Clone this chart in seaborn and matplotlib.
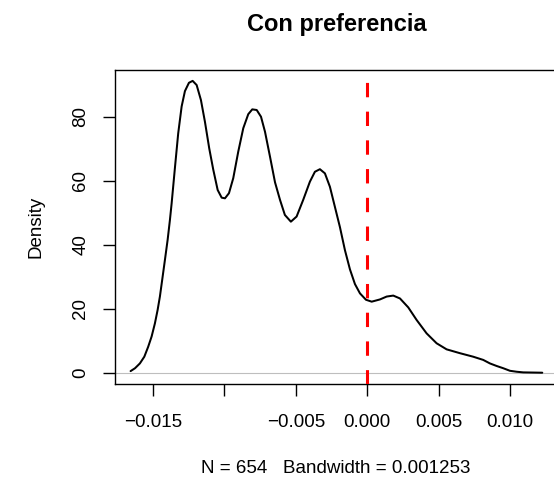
import matplotlib
matplotlib.use("Agg")
import matplotlib.pyplot as plt
import seaborn as sns
import pandas as pd

# Density curve
dens_x = [-0.01655, -0.01624, -0.01590, -0.01559, -0.01532, -0.01508, -0.01485,
          -0.01466, -0.01450, -0.01434, -0.01415, -0.01396, -0.01380, -0.01368,
          -0.01345, -0.01322, -0.01298, -0.01275, -0.01247, -0.01221, -0.01193,
          -0.01163, -0.01135, -0.01105, -0.01077, -0.01046, -0.01018, -0.00995,
          -0.00967, -0.00937, -0.00902, -0.00867, -0.00832, -0.00804, -0.00773,
          -0.00743, -0.00715, -0.00680, -0.00645, -0.00610, -0.00576, -0.00534,
          -0.00494, -0.00448, -0.00401, -0.00366, -0.00331, -0.00296, -0.00261,
          -0.00226, -0.00191, -0.00156, -0.00121, -0.00086, -0.00051, -0.00009,
          0.00031, 0.00089, 0.00136, 0.00182, 0.00229, 0.00287, 0.00345,
          0.00415, 0.00485, 0.00555, 0.00648, 0.00741, 0.00811, 0.00858,
          0.00905, 0.00951, 0.00998, 0.01045, 0.01091, 0.01224]
dens_y = [0.5, 1.4, 2.9, 5.0, 8.1, 11.3, 15.4,
          19.6, 23.8, 29.0, 35.2, 41.5, 47.7, 52.9,
          64.0, 74.8, 83.2, 88.0, 90.6, 91.2, 89.9,
          85.2, 78.4, 70.1, 63.5, 57.1, 54.7, 54.5,
          56.1, 60.8, 69.1, 76.4, 80.8, 82.3, 82.1,
          80.0, 75.3, 67.5, 59.5, 54.0, 49.3, 47.2,
          48.8, 54.0, 59.7, 62.8, 63.6, 62.3, 58.1,
          51.8, 45.5, 38.3, 32.3, 27.7, 24.8, 22.8,
          22.2, 22.9, 23.8, 24.1, 23.2, 20.4, 16.5,
          12.3, 9.2, 7.3, 6.1, 5.0, 4.0, 2.9,
          2.1, 1.4, 0.6, 0.3, 0.1, 0.0]

ref_x = 0.0
x_ticks = [-0.015, -0.010, -0.005, 0.000, 0.005, 0.010]
x_tick_labels = ["\u22120.015", "", "\u22120.005", "0.000", "0.005", "0.010"]
y_ticks = [0, 20, 40, 60, 80]
y_tick_labels = ["0", "20", "40", "60", "80"]
title = "Con preferencia"
x_label = "N = 654   Bandwidth = 0.001253"
y_label = "Density"

sns.set_style("ticks")
plt.rcParams["font.family"] = ["Liberation Sans", "DejaVu Sans"]
plt.rcParams["text.color"] = "black"
plt.rcParams["axes.labelcolor"] = "black"
plt.rcParams["xtick.color"] = "black"
plt.rcParams["ytick.color"] = "black"

fig = plt.figure(figsize=(5.54, 4.79), dpi=100)
ax = fig.add_axes([115 / 554, 95 / 479, 444 / 554, 314 / 479])

df = pd.DataFrame({"x": dens_x, "y": dens_y})
ax.axhline(0, color="#BEBEBE", linewidth=0.8, zorder=1)
sns.lineplot(data=df, x="x", y="y", color="black", linewidth=1.45, ax=ax,
             sort=True, estimator=None, zorder=2)
for line in ax.get_lines():
    line.set_solid_joinstyle("round")
ax.axvline(ref_x, color="#FF0000", linewidth=2.2, linestyle=(0, (4.7, 4.7)),
           dash_capstyle="butt", zorder=3)

ax.set_xlim(-0.01764, 0.01341)
ax.set_ylim(-3.53, 94.6)

ax.set_xticks(x_ticks)
ax.set_xticklabels(x_tick_labels)
ax.set_yticks(y_ticks)
ax.set_yticklabels(y_tick_labels, rotation=90, va="center")

ax.tick_params(axis="x", direction="out", length=8.5, width=1, pad=13,
               labelsize=13.5, colors="black")
ax.tick_params(axis="y", direction="out", length=8.5, width=1, pad=10,
               labelsize=13.5, colors="black")
for s in ax.spines.values():
    s.set_color("black")
    s.set_linewidth(1.0)
    s.set_visible(True)

ax.set_xlabel(x_label, fontsize=13.5, color="black")
ax.set_ylabel(y_label, fontsize=13.5, color="black")
ax.xaxis.set_label_coords(0.5 - (337 - 336) / 444, -0.241)
ax.yaxis.set_label_coords(-0.159, 0.5)
ax.set_title(title, fontsize=17, fontweight="bold", pad=28.3, color="black")

fig.savefig("out.png", dpi=100)
